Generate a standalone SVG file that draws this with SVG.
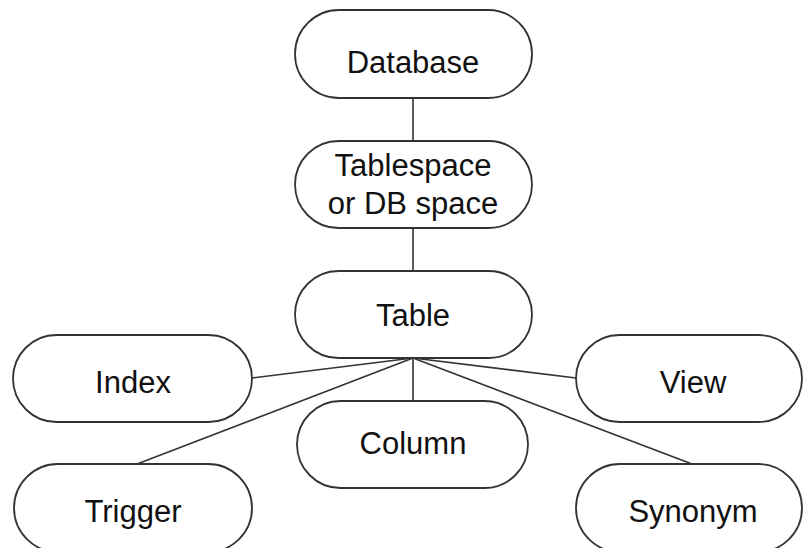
<svg xmlns="http://www.w3.org/2000/svg" width="803" height="548" viewBox="0 0 803 548">
<style>
.n{fill:#fff;stroke:#333;stroke-width:1.8}
.t{font-family:"Liberation Sans",Arial,sans-serif;font-size:31px;fill:#111;text-anchor:middle}
.c{stroke:#333;stroke-width:1.6;fill:none}
</style>
<rect width="803" height="548" fill="#fff"/>
<g id="connectors">
<line class="c" x1="413" y1="98" x2="413" y2="141"/>
<line class="c" x1="413" y1="228" x2="413" y2="271"/>
<line class="c" x1="413" y1="358" x2="252" y2="378"/>
<line class="c" x1="413" y1="358" x2="137" y2="464"/>
<line class="c" x1="413" y1="358" x2="413" y2="401"/>
<line class="c" x1="413" y1="358" x2="576" y2="378"/>
<line class="c" x1="413" y1="358" x2="692" y2="464"/>
</g>
<g id="database"><rect class="n" x="295" y="10" width="237" height="88" rx="44"/><text class="t" x="413" y="73">Database</text></g>
<g id="tablespace"><rect class="n" x="295" y="141" width="237" height="87" rx="43.5"/><text class="t" x="413" y="176">Tablespace</text><text class="t" x="413" y="214">or DB space</text></g>
<g id="table"><rect class="n" x="295" y="271" width="237" height="87" rx="43.5"/><text class="t" x="413" y="326">Table</text></g>
<g id="index"><rect class="n" x="13" y="335" width="239" height="87" rx="43.5"/><text class="t" x="133" y="393">Index</text></g>
<g id="view"><rect class="n" x="576" y="335" width="226" height="87" rx="43.5"/><text class="t" x="693" y="393">View</text></g>
<g id="column"><rect class="n" x="297" y="401" width="231" height="87" rx="43.5"/><text class="t" x="413" y="454">Column</text></g>
<g id="trigger"><rect class="n" x="14" y="464" width="238" height="88" rx="44"/><text class="t" x="133" y="522">Trigger</text></g>
<g id="synonym"><rect class="n" x="576" y="464" width="226" height="88" rx="44"/><text class="t" x="693" y="522">Synonym</text></g>
</svg>
